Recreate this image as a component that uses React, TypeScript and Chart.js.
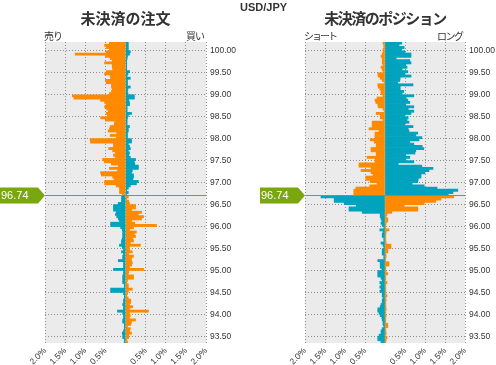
import React, { useEffect, useRef } from 'react';
import { Chart, registerables } from 'chart.js';

Chart.register(...registerables);

const ORANGE = '#ff8a00';
const TEAL = '#00a3bd';
const GREEN = '#7aa60e';
const PLOT_BG = '#ebebeb';
const GRID = '#8f8f8f';
const TEXT = '#333333';

const CURRENT_PRICE = 96.74;
const LEVEL_TOP = 100.2;
const LEVEL_STEP = 0.05;
const PRICE_MIN = 93.35;
const PRICE_MAX = 100.2;
const PRICE_TICKS = [93.5, 94.0, 94.5, 95.0, 95.5, 96.0, 96.5, 97.0, 97.5, 98.0, 98.5, 99.0, 99.5, 100.0];
const PCT_TICKS = [-2, -1.5, -1, -0.5, 0, 0.5, 1, 1.5, 2];

// 未決済の注文 (orders), % per 0.05 bucket, listed from the top bucket (100.15-100.20) downwards
const orderSellAbove = [
  0.40, 0.52, 0.48, 0.40, 0.48, 1.25, 0.50, 0.38, 0.33, 0.52,
  0.33, 0.33, 0.32, 0.48, 0.52, 0.38, 0.37, 0.50, 0.48, 0.35,
  0.35, 0.33, 0.35, 0.40, 1.32, 1.28, 0.62, 0.52, 0.48, 0.52,
  0.47, 0.43, 0.48, 0.45, 0.62, 0.50, 0.27, 0.28, 0.38, 0.40,
  0.43, 0.22, 0.38, 0.23, 0.88, 0.87, 0.30, 0.30, 0.42, 0.32,
  0.25, 0.30, 0.25, 0.57, 0.53, 0.35, 0.18, 0.40, 0.20, 0.62,
  0.60, 0.32, 0.28, 0.52, 0.52, 0.23, 0.15, 0.15, 0.15, 0.08,
];
const orderBuyAbove = [
  0.07, 0.07, 0.07, 0.07, 0.12, 0.10, 0.05, 0.04, 0.03, 0.03,
  0.03, 0.03, 0.03, 0.10, 0.06, 0.04, 0.12, 0.05, 0.05, 0.05,
  0.12, 0.06, 0.05, 0.06, 0.22, 0.22, 0.08, 0.10, 0.10, 0.04,
  0.04, 0.04, 0.15, 0.07, 0.05, 0.04, 0.04, 0.04, 0.10, 0.07,
  0.07, 0.05, 0.05, 0.05, 0.15, 0.15, 0.07, 0.10, 0.12, 0.07,
  0.10, 0.08, 0.12, 0.25, 0.22, 0.23, 0.32, 0.32, 0.17, 0.15,
  0.20, 0.20, 0.18, 0.32, 0.27, 0.12, 0.07, 0.03, 0.07, 0.03,
];
const orderSellBelow = [
  0.10, 0.10, 0.10, 0.18, 0.30, 0.30, 0.30, 0.23, 0.25, 0.22,
  0.18, 0.15, 0.37, 0.37, 0.12, 0.08, 0.07, 0.07, 0.07, 0.08,
  0.10, 0.10, 0.15, 0.08, 0.05, 0.10, 0.05, 0.07, 0.07, 0.18,
  0.05, 0.05, 0.05, 0.30, 0.05, 0.05, 0.07, 0.07, 0.07, 0.07,
  0.03, 0.03, 0.37, 0.37, 0.05, 0.03, 0.03, 0.05, 0.05, 0.07,
  0.05, 0.05, 0.20, 0.07, 0.05, 0.05, 0.07, 0.07, 0.03, 0.03,
  0.03, 0.05, 0.08, 0.07, 0.07, 0.03, 0.03,
];
const orderBuyBelow = [
  0.07, 0.03, 0.08, 0.10, 0.25, 0.25, 0.15, 0.40, 0.32, 0.45,
  0.40, 0.15, 0.23, 0.77, 0.20, 0.10, 0.27, 0.22, 0.25, 0.18,
  0.20, 0.12, 0.37, 0.10, 0.10, 0.17, 0.08, 0.20, 0.15, 0.15,
  0.17, 0.15, 0.10, 0.45, 0.08, 0.07, 0.20, 0.20, 0.05, 0.03,
  0.07, 0.07, 0.17, 0.07, 0.05, 0.03, 0.07, 0.13, 0.13, 0.10,
  0.18, 0.10, 0.57, 0.10, 0.12, 0.10, 0.25, 0.15, 0.13, 0.05,
  0.12, 0.10, 0.15, 0.08, 0.08, 0.03, 0.05,
];

// 未決済のポジション (positions)
const posShortAbove = [
  0.05, 0.03, 0.03, 0.05, 0.05, 0.07, 0.10, 0.07, 0.07, 0.07,
  0.05, 0.10, 0.07, 0.05, 0.18, 0.17, 0.12, 0.07, 0.02, 0.18,
  0.17, 0.13, 0.10, 0.10, 0.05, 0.20, 0.25, 0.23, 0.18, 0.17,
  0.05, 0.02, 0.22, 0.12, 0.12, 0.05, 0.32, 0.32, 0.32, 0.40,
  0.15, 0.25, 0.25, 0.25, 0.37, 0.27, 0.22, 0.22, 0.35, 0.35,
  0.22, 0.22, 0.45, 0.25, 0.25, 0.65, 0.65, 0.35, 0.60, 0.35,
  0.30, 0.48, 0.48, 0.37, 0.20, 0.38, 0.73, 0.78, 0.78, 0.78,
];
const posLongAbove = [
  0.42, 0.35, 0.48, 0.42, 0.50, 0.65, 0.65, 0.28, 0.62, 0.65,
  0.52, 0.55, 0.43, 0.57, 0.50, 0.65, 0.38, 0.37, 0.32, 0.70,
  0.38, 0.38, 0.47, 0.43, 0.72, 0.53, 0.57, 0.62, 0.52, 0.72,
  0.58, 0.72, 0.65, 0.50, 0.58, 0.55, 0.60, 0.50, 0.70, 0.58,
  0.60, 0.82, 0.77, 0.92, 0.85, 0.62, 0.72, 0.93, 0.97, 0.77,
  0.75, 0.52, 0.62, 0.52, 0.72, 0.33, 0.92, 1.20, 1.10, 1.00,
  0.90, 0.90, 0.83, 0.82, 0.68, 0.98, 1.30, 1.82, 1.70, 1.58,
];
const posShortBelow = [
  1.60, 1.27, 1.27, 1.02, 0.72, 0.90, 0.90, 0.57, 0.12, 0.12,
  0.10, 0.08, 0.10, 0.07, 0.03, 0.13, 0.05, 0.07, 0.07, 0.03,
  0.03, 0.10, 0.05, 0.03, 0.07, 0.07, 0.07, 0.03, 0.03, 0.18,
  0.12, 0.12, 0.12, 0.08, 0.18, 0.18, 0.18, 0.10, 0.07, 0.13,
  0.10, 0.13, 0.10, 0.13, 0.07, 0.07, 0.05, 0.07, 0.07, 0.10,
  0.12, 0.18, 0.18, 0.15, 0.12, 0.08, 0.07, 0.05, 0.05, 0.03,
  0.07, 0.10, 0.10, 0.15, 0.18, 0.18, 0.10,
];
const posLongBelow = [
  1.72, 1.40, 1.27, 0.98, 0.48, 0.82, 0.82, 0.17, 0.05, 0.03,
  0.07, 0.07, 0.03, 0.02, 0.02, 0.10, 0.03, 0.02, 0.02, 0.02,
  0.02, 0.03, 0.15, 0.15, 0.07, 0.07, 0.02, 0.03, 0.02, 0.02,
  0.10, 0.10, 0.02, 0.02, 0.03, 0.07, 0.02, 0.02, 0.02, 0.05,
  0.02, 0.02, 0.02, 0.02, 0.02, 0.05, 0.02, 0.03, 0.02, 0.02,
  0.02, 0.03, 0.02, 0.02, 0.03, 0.02, 0.02, 0.02, 0.07, 0.07,
  0.02, 0.02, 0.03, 0.02, 0.05, 0.03, 0.02,
];

function levelCenter(i: number) {
  return Math.round((LEVEL_TOP - LEVEL_STEP * (i + 0.5)) * 1000) / 1000;
}

function buildDatasets(leftAbove: number[], rightAbove: number[], leftBelow: number[], rightBelow: number[]) {
  const left = [...leftAbove, ...leftBelow];
  const right = [...rightAbove, ...rightBelow];
  const nAbove = leftAbove.length;
  const common = { borderWidth: 0, grouped: false, barPercentage: 1, categoryPercentage: 1 };
  return [
    {
      ...common,
      data: left.map((v, i) => ({ x: -v, y: levelCenter(i) })),
      backgroundColor: left.map((_, i) => (i < nAbove ? ORANGE : TEAL)),
    },
    {
      ...common,
      data: right.map((v, i) => ({ x: v, y: levelCenter(i) })),
      backgroundColor: right.map((_, i) => (i < nAbove ? TEAL : ORANGE)),
    },
  ];
}

const plotBackground = {
  id: 'plotBackground',
  beforeDraw(chart: any) {
    const { ctx, chartArea } = chart;
    ctx.save();
    ctx.fillStyle = PLOT_BG;
    ctx.fillRect(chartArea.left, chartArea.top, chartArea.right - chartArea.left, chartArea.bottom - chartArea.top);
    ctx.restore();
  },
};

const priceMarker = {
  id: 'priceMarker',
  afterDatasetsDraw(chart: any) {
    const { ctx, chartArea, scales } = chart;
    const y = Math.round(scales.y.getPixelForValue(CURRENT_PRICE)) + 1;
    const l = chartArea.left;
    ctx.save();
    ctx.strokeStyle = GREEN;
    ctx.lineWidth = 1;
    ctx.beginPath();
    ctx.moveTo(l, y + 0.5);
    ctx.lineTo(chartArea.right, y + 0.5);
    ctx.stroke();
    ctx.fillStyle = GREEN;
    ctx.beginPath();
    ctx.moveTo(l - 45, y - 7.5);
    ctx.lineTo(l - 7, y - 7.5);
    ctx.lineTo(l, y + 0.5);
    ctx.lineTo(l - 7, y + 8.5);
    ctx.lineTo(l - 45, y + 8.5);
    ctx.closePath();
    ctx.fill();
    ctx.fillStyle = '#ffffff';
    ctx.font = '11px "Liberation Sans", Arial, sans-serif';
    ctx.textBaseline = 'middle';
    ctx.textAlign = 'left';
    ctx.fillText(CURRENT_PRICE.toFixed(2), l - 44, y + 1);
    ctx.restore();
  },
};

function makeConfig(datasets: any[], yWidth: number) {
  const gridCommon = { color: GRID, lineWidth: 1, drawTicks: false, offset: false };
  const borderCommon = { display: false, dash: [1, 2] };
  return {
    type: 'bar',
    data: { datasets },
    options: {
      indexAxis: 'y',
      animation: false,
      responsive: false,
      maintainAspectRatio: false,
      layout: { padding: { left: 45, top: 42, right: 0, bottom: 0 } },
      plugins: { legend: { display: false }, tooltip: { enabled: false }, title: { display: false } },
      scales: {
        x: {
          type: 'linear',
          min: -2,
          max: 2,
          afterBuildTicks: (s: any) => {
            s.ticks = PCT_TICKS.map((v) => ({ value: v }));
          },
          afterFit: (s: any) => {
            s.height = 22;
          },
          grid: gridCommon,
          border: borderCommon,
          ticks: {
            autoSkip: false,
            minRotation: 45,
            maxRotation: 45,
            padding: 3,
            color: TEXT,
            font: { family: '"Liberation Sans", Arial, sans-serif', size: 8.5 },
            callback: (v: any) => (Number(v) === 0 ? '' : Math.abs(Number(v)).toFixed(1) + '%'),
          },
        },
        y: {
          type: 'linear',
          position: 'right',
          offset: false,
          min: PRICE_MIN,
          max: PRICE_MAX,
          afterBuildTicks: (s: any) => {
            s.ticks = PRICE_TICKS.map((v) => ({ value: v }));
          },
          afterFit: (s: any) => {
            s.width = yWidth;
          },
          grid: gridCommon,
          border: borderCommon,
          ticks: {
            autoSkip: false,
            padding: 4,
            color: TEXT,
            font: { family: '"Liberation Sans", Arial, sans-serif', size: 8.5 },
            callback: (v: any) => Number(v).toFixed(2),
          },
        },
      },
    },
    plugins: [plotBackground, priceMarker],
  };
}

function BookChart(props: { datasets: any[]; width: number; yWidth: number }) {
  const ref = useRef<HTMLCanvasElement | null>(null);
  useEffect(() => {
    if (!ref.current) return;
    const chart = new Chart(ref.current, makeConfig(props.datasets, props.yWidth) as any);
    return () => chart.destroy();
  }, []);
  return <canvas ref={ref} width={props.width} height={365} style={{ display: 'block', width: props.width, height: 365 }} />;
}

const jp = '"Noto Sans CJK JP", sans-serif';

export default function App() {
  const orderSets = buildDatasets(orderSellAbove, orderBuyAbove, orderSellBelow, orderBuyBelow);
  const posSets = buildDatasets(posShortAbove, posLongAbove, posShortBelow, posLongBelow);
  const abs = (s: any): any => ({ position: 'absolute', whiteSpace: 'nowrap', lineHeight: 1, color: TEXT, ...s });
  return (
    <div style={{ position: 'absolute', left: 0, top: 0, width: 496, height: 365, background: '#fff', overflow: 'hidden' }}>
      <div style={{ position: 'absolute', left: 0, top: 0 }}>
        <BookChart datasets={orderSets} width={247} yWidth={41} />
      </div>
      <div style={{ position: 'absolute', left: 260, top: 0 }}>
        <BookChart datasets={posSets} width={236} yWidth={31} />
      </div>
      <div style={abs({ left: 240, top: 1, font: 'bold 11px "Liberation Sans", Arial, sans-serif' })}>USD/JPY</div>
      <div style={abs({ left: 45, width: 161, top: 10, textAlign: 'center', fontFamily: jp, fontWeight: 'bold', fontSize: 15 })}>未決済の注文</div>
      <div style={abs({ left: 305, width: 160, top: 10, textAlign: 'center', fontFamily: jp, fontWeight: 'bold', fontSize: 15, letterSpacing: '-1.5px' })}>未決済のポジション</div>
      <div style={abs({ left: 44, top: 31, fontFamily: jp, fontSize: 10, letterSpacing: '-1px' })}>売り</div>
      <div style={abs({ left: 186, top: 31, fontFamily: jp, fontSize: 10, letterSpacing: '-1px' })}>買い</div>
      <div style={abs({ left: 304, top: 31, fontFamily: jp, fontSize: 10, letterSpacing: '-2px' })}>ショート</div>
      <div style={abs({ left: 437, top: 31, fontFamily: jp, fontSize: 10, letterSpacing: '-1.5px' })}>ロング</div>
    </div>
  );
}
